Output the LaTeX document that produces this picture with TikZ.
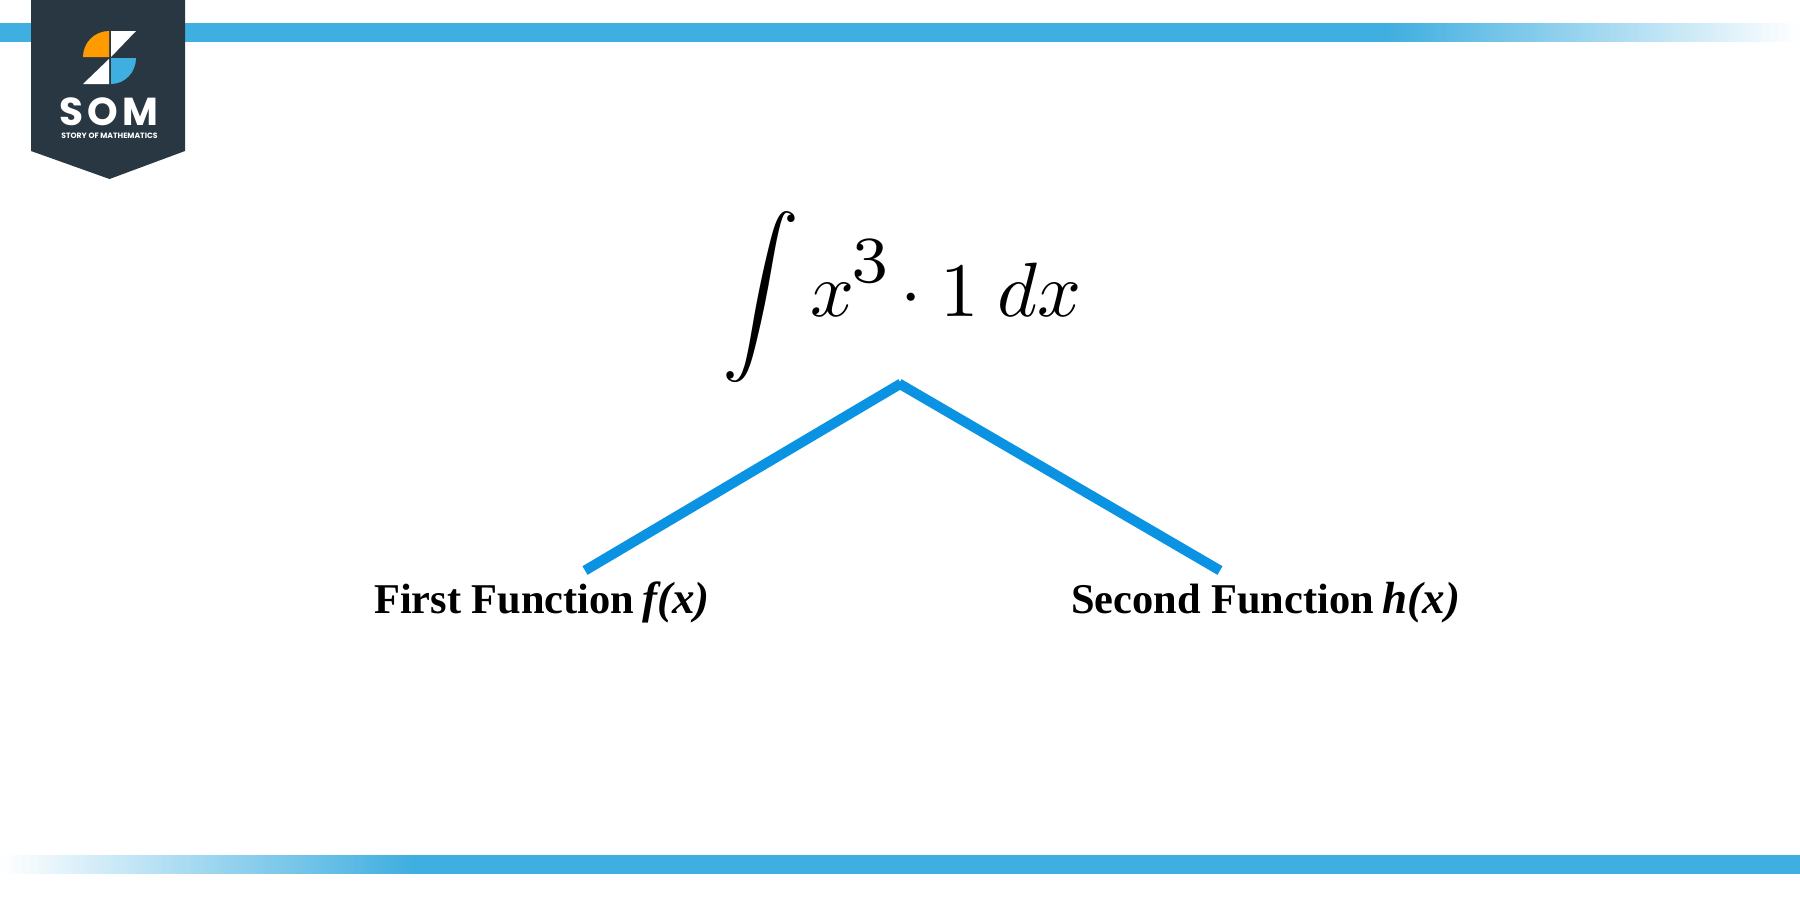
\documentclass[tikz,border=0pt]{standalone}
\usepackage{fontspec}
\usepackage{graphicx}
\setmainfont{Liberation Serif}
\newfontfamily\logofont{Poppins}
\definecolor{barblue}{HTML}{3FAEE0}
\definecolor{navy}{HTML}{283742}
\definecolor{lineblue}{HTML}{0B93E3}
\definecolor{logoorange}{HTML}{FF9B00}
\tikzset{
  branch/.style={draw=lineblue,line width=10pt,line cap=butt},
  lbl/.style={inner sep=0pt,anchor=base west,font=\bfseries\fontsize{42.4}{50}\selectfont},
}
\newcommand{\fx}[1]{\fontsize{45}{50}\selectfont\textit{#1}}
\begin{document}
\begin{tikzpicture}[x=1pt,y=-1pt]
\useasboundingbox (0,0) rectangle (1800,900);
\fill[white] (0,0) rectangle (1800,900);
% bars
\fill[barblue] (0,23) rectangle (1800,42);
\foreach \i in {0,...,99}{
  \pgfmathsetmacro{\p}{100-\i}
  \fill[barblue!\p!white] ({1385+4.1*\i},23) rectangle (1800,42);
}
\fill[barblue] (0,855) rectangle (1800,874);
\foreach \i in {0,...,99}{
  \pgfmathsetmacro{\p}{100-\i}
  \fill[barblue!\p!white] (0,855) rectangle ({415-4.1*\i},874);
}
% logo
\fill[navy] (31,0) -- (185,0) -- (185,151) -- (109.5,179) -- (31,151) -- cycle;
\fill[logoorange] (109,31) -- (109,57) -- (83,57) arc[start angle=180,end angle=270,radius=26] -- cycle;
\fill[white] (111,31) -- (136,31) -- (111,57) -- cycle;
\fill[white] (83,84) -- (109,59) -- (109,84) -- cycle;
\fill[barblue] (111,58) -- (136,58) arc[start angle=0,end angle=90,x radius=25,y radius=26] -- (111,84) -- cycle;
\node[text=white,inner sep=0pt,anchor=base] (som) at (111,125.5) {\logofont\fontsize{39}{39}\selectfont\addfontfeature{LetterSpace=10}\textbf{SOM}};
\node[text=white,inner sep=0pt,anchor=base] (sub) at (109.5,138.5) {\logofont\fontsize{7.7}{8}\selectfont\textbf{STORY OF MATHEMATICS}};
% formula
\node[inner sep=0pt,anchor=base west,scale=7.7] (formula) at (721,316.5) {$\displaystyle\int\mkern-0.4mu x^{\mkern-1mu\raisebox{0.25pt}{\scalebox{1.22}{$\scriptstyle 3$}}}\mkern-2.2mu\cdot\mkern0.35mu 1\mkern4.4mu dx$};
% labels
\node[lbl] (first) at (374,613) {First Function\hspace{8pt}\fx{f(x)}};
\node[lbl] (second) at (1071,613) {Second Function\hspace{9pt}\fx{h(x)}};
% branches
\coordinate (apexl) at (901,383.5);
\coordinate (apexr) at (899,383.5);
\coordinate (endl) at (585,570.5);
\coordinate (endr) at (1220,570.5);
\draw[branch] (endl) -- (apexl);
\draw[branch] (apexr) -- (endr);
\end{tikzpicture}
\end{document}
